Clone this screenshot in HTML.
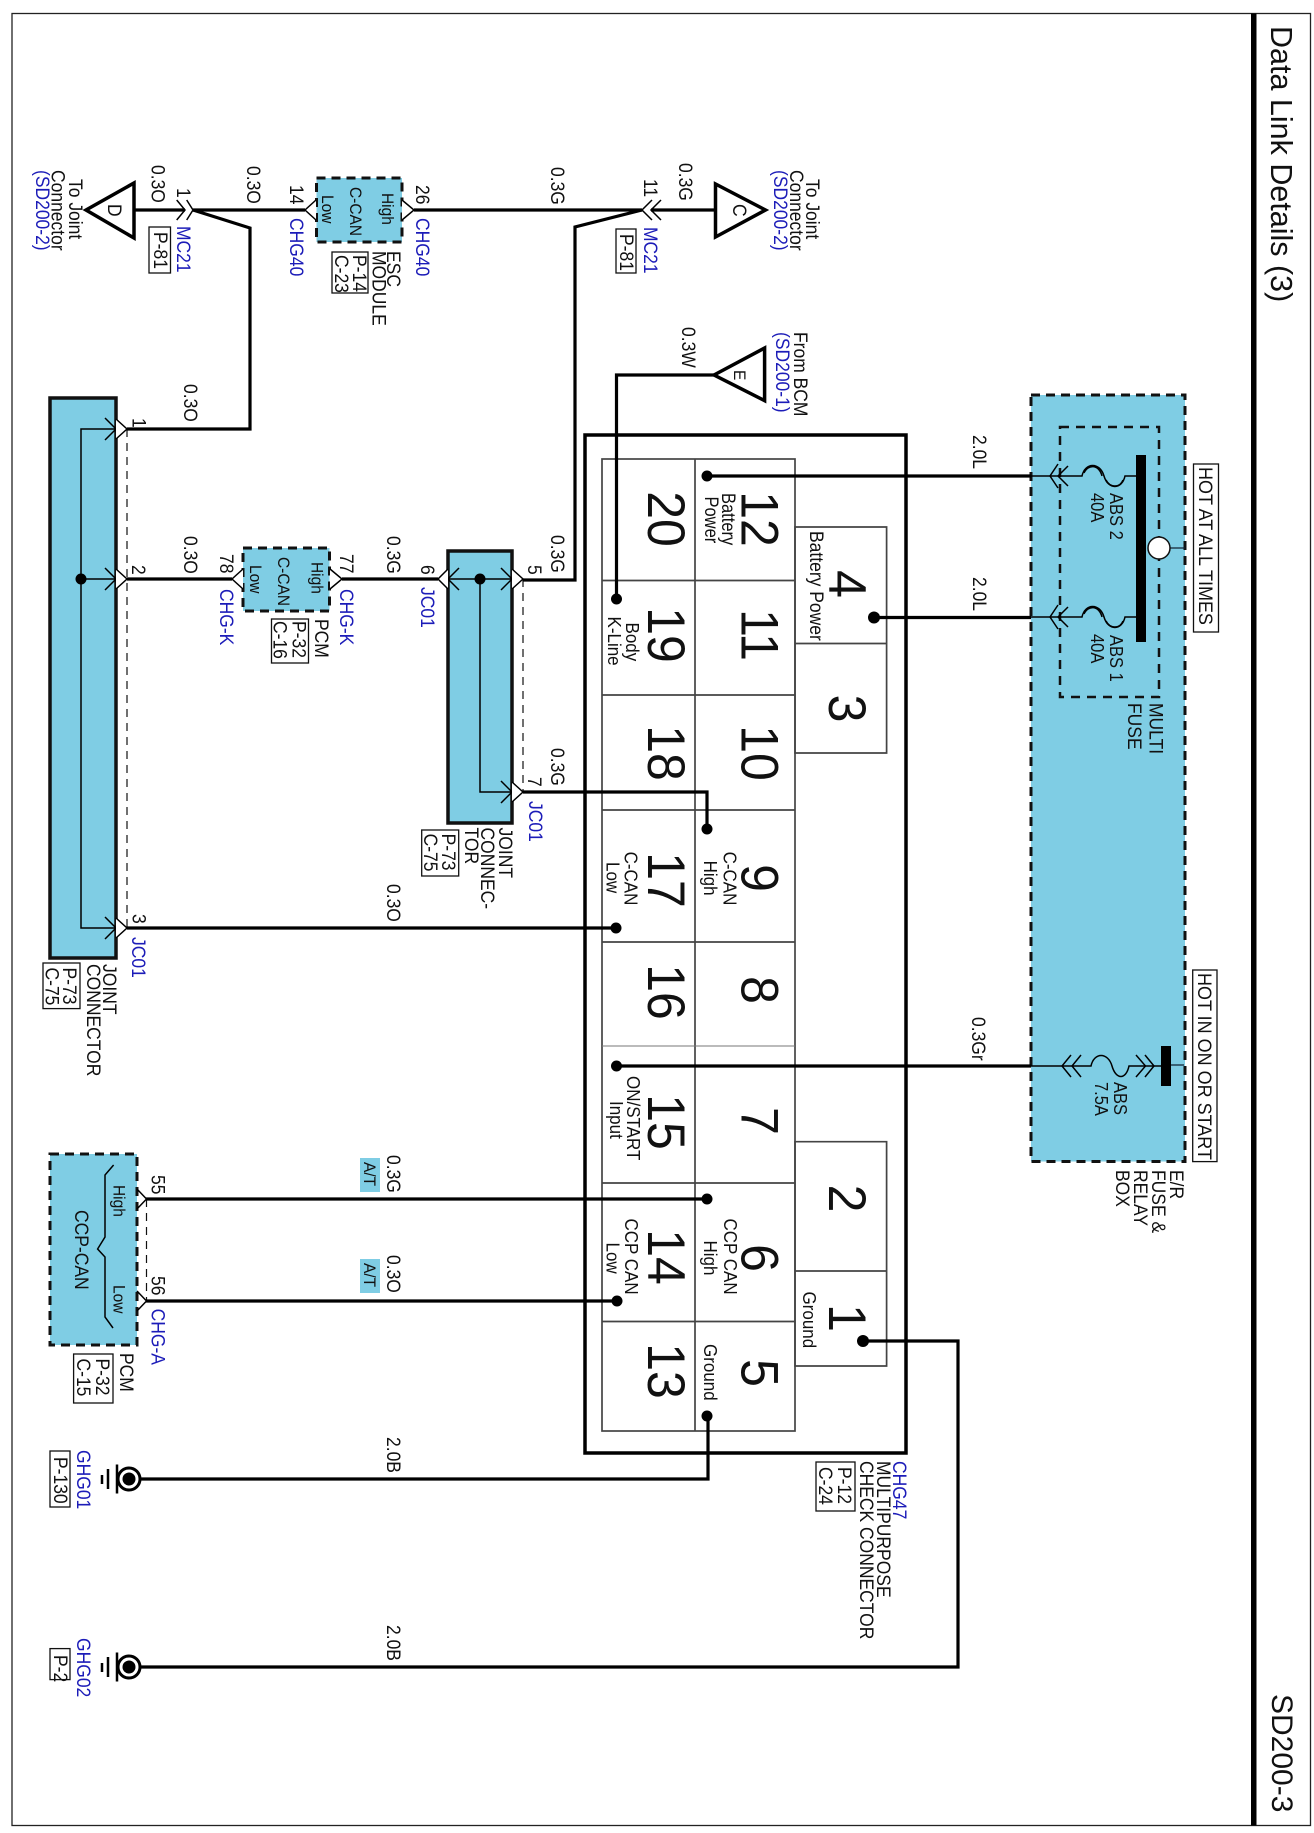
<!DOCTYPE html>
<html><head><meta charset="utf-8"><style>
html,body{margin:0;padding:0;background:#fff}
svg{display:block}
text{font-family:"Liberation Sans",sans-serif;font-size:17.5px;fill:#111}
.b{fill:#1c1cb8}
.m{font-size:15.5px}
.a{font-size:16.5px}
.c{font-size:17px}
.n{font-size:50px;text-anchor:middle}
.t{font-size:30.5px}
.w{fill:none;stroke:#000;stroke-width:3.2}
.f{fill:none;stroke:#000;stroke-width:1.5}
.p{fill:#fff;stroke:#000;stroke-width:1.5}
.g{fill:#fff;stroke:#444;stroke-width:1.7}
.d{fill:none;stroke:#111;stroke-width:1.2;stroke-dasharray:8 6}
.mod{fill:#7fcde4;stroke:#111;stroke-width:3;stroke-dasharray:9 6}
.jc{fill:#7fcde4;stroke:#111;stroke-width:3.5}
.box{fill:#fff;stroke:#111;stroke-width:1.3}
</style></head><body>
<svg width="1314" height="1833" viewBox="0 0 1314 1833" xmlns="http://www.w3.org/2000/svg">
<rect width="1314" height="1833" fill="#fff"/>
<rect x="12" y="13.5" width="1298.5" height="1812" fill="none" stroke="#222" stroke-width="1.3"/>
<rect x="1251" y="13.5" width="5.5" height="1812" fill="#000"/>
<text class="t" transform="matrix(0 1 -1 0 1271 26)">Data Link Details (3)</text>
<text style="font-size:30px" transform="matrix(0 1 -1 0 1272 1694)">SD200-3</text>

<!-- big joint connector -->
<rect class="jc" x="50" y="398" width="66" height="560"/>
<path class="f" d="M116,429H81V928H116M81,579H116"/>
<path class="f" d="M105,418L116,429L105,440M105,568L116,579L105,590M105,917L116,928L105,939"/>
<path class="d" d="M127,429V928"/>
<path class="p" d="M116,419L127,429L116,439M116,569L127,579L116,589M116,918L127,928L116,938"/>
<circle cx="81" cy="579" r="5.5"/>

<!-- second joint connector -->
<rect class="jc" x="448" y="551" width="64" height="272"/>
<path class="f" d="M448,579H512M480,579V792H512"/>
<path class="f" d="M459,568L448,579L459,590M501,568L512,579L501,590M501,781L512,792L501,803"/>
<path class="d" d="M523,579V792"/>
<path class="p" d="M512,569L523,579L512,589M512,782L523,792L512,802M448,569L438,579L448,589"/>
<circle cx="480" cy="579" r="5.5"/>

<!-- modules -->
<rect class="mod" x="316.5" y="178" width="85.5" height="64"/>
<rect class="mod" x="243" y="548" width="86.5" height="63"/>
<rect class="mod" x="50" y="1154" width="87" height="191"/>
<path class="p" d="M316,200L305,210L316,220M402,200L414,210L402,220"/>
<path class="p" d="M243,569L232,579L243,589M330,569L342,579L330,589"/>
<path class="f" d="M137,1189L146.5,1199L137,1209M137,1291L146.5,1301L137,1311"/>
<path class="d" d="M146.5,1199V1301"/>
<path class="f" d="M113.6,1165L105,1175V1237L97.6,1249L105,1257V1317L113,1328"/>

<!-- multipurpose connector -->
<rect x="585" y="435" width="321" height="1018" fill="none" stroke="#000" stroke-width="3.5"/>
<path class="g" d="M795,527H886.6V753H795ZM795,643.5H886.6M795,1141.7H886.6V1366H795ZM795,1271H886.6"/>
<rect x="602" y="459" width="193" height="972" fill="none" stroke="#444" stroke-width="1.7"/>
<path fill="none" stroke="#444" stroke-width="1.7" d="M695,459V1431M602,580.5H795M602,695H795M602,810H795M602,942H795M602,1183H795M602,1321.5H795"/>
<path fill="none" stroke="#777" stroke-width="1" d="M602,1046H795"/>

<!-- E/R fuse box -->
<rect class="mod" x="1031" y="395" width="154" height="766.5"/>
<rect x="1060" y="427" width="99" height="270" fill="none" stroke="#111" stroke-width="2.5" stroke-dasharray="9 7"/>
<rect x="1136" y="455" width="10" height="187" fill="#000"/>
<rect x="1161" y="1046" width="10" height="40" fill="#000"/>
<path fill="none" stroke="#123" stroke-width="1.3" d="M1170,548H1185M1171,1065H1184"/>
<circle cx="1159" cy="548" r="11" fill="#fff" stroke="#111" stroke-width="1.5"/>
<path class="f" d="M1030,476H1082C1085,462 1100,462 1104,476C1108,490 1122,490 1125,476H1136"/>
<path class="f" d="M1084,473C1088,464 1099,464 1102,476M1106,480C1110,488 1120,488 1123,480" stroke-width="1"/>
<path class="f" d="M1058,464L1050,476L1058,488M1068,466L1058,476L1068,486"/>
<path class="f" d="M1030,617H1082C1085,603 1100,603 1104,617C1108,631 1122,631 1125,617H1136"/>
<path class="f" d="M1084,614C1088,605 1099,605 1102,617M1106,621C1110,629 1120,629 1123,621" stroke-width="1"/>
<path class="f" d="M1058,605L1050,617L1058,629M1068,607L1058,617L1068,627"/>
<path class="f" d="M1030,1066H1091C1094,1052 1108,1052 1112,1066C1116,1080 1126,1080 1129,1066H1161"/>
<path class="f" d="M1071,1055L1062,1066L1071,1077M1081,1055L1072,1066L1081,1077M1136,1055L1145.5,1066L1136,1077M1145,1055L1154,1066L1145,1077"/>

<!-- triangles -->
<path fill="#fff" stroke="#000" stroke-width="3.5" d="M86,210L134,183V238Z"/>
<path fill="#fff" stroke="#000" stroke-width="3.5" d="M715.5,184V237L765.5,210Z"/>
<path fill="#fff" stroke="#000" stroke-width="3.5" d="M714,375L764.6,348V400.6Z"/>

<!-- wires -->
<path class="w" d="M134,210H185M193,210H305M414,210H642M651,210H715"/>
<path class="w" d="M193,210L250,228V429H127"/>
<path class="w" d="M642,210L575,227V580H523"/>
<path class="w" d="M127,579H232M342,579H438"/>
<path class="w" d="M523,792H707V829"/>
<path class="w" d="M127,928H616"/>
<path class="w" d="M714,375H616.5V599"/>
<path class="w" d="M707,476H1031M874,617.5H1031M616.5,1066H1031"/>
<path class="w" d="M146,1199H708M146,1301H617"/>
<path class="w" d="M141,1479H708V1416"/>
<path class="w" d="M141,1667H958V1341H863"/>
<path class="f" d="M176.7,200L185,210L176.7,220M186.7,200L193,210L186.7,220"/>
<path class="f" d="M652,200L642,210L652,220M661,200L651,210L661,220"/>
<g>
<circle cx="707" cy="476" r="5.5"/><circle cx="874" cy="617.5" r="6"/><circle cx="616.5" cy="599" r="5.5"/>
<circle cx="707" cy="829" r="5.5"/><circle cx="616" cy="928" r="5.5"/><circle cx="616.5" cy="1066" r="5.5"/>
<circle cx="707" cy="1199" r="5.5"/><circle cx="617" cy="1301" r="5.5"/><circle cx="863" cy="1341" r="6"/><circle cx="707" cy="1416" r="5.5"/>
</g>

<!-- grounds -->
<g fill="#fff" stroke="#000" stroke-width="3"><circle cx="129" cy="1479" r="11"/><circle cx="129" cy="1667" r="11"/></g>
<circle cx="129" cy="1479" r="6.5"/><circle cx="129" cy="1667" r="6.5"/>
<path fill="none" stroke="#000" stroke-width="2.5" d="M117,1464.5V1493.5M117,1652.5V1681.5M108,1469V1489M108,1657V1677"/>
<path fill="none" stroke="#000" stroke-width="2.5" d="M102,1475V1484M102,1663V1672"/>

<!-- label boxes -->
<rect class="box" x="149" y="227" width="21.5" height="46"/>
<rect class="box" x="616" y="229" width="20" height="44"/>
<rect class="box" x="332" y="252" width="36" height="41"/>
<rect class="box" x="271.5" y="619" width="37" height="44"/>
<rect class="box" x="421.7" y="830" width="37" height="46"/>
<rect class="box" x="43" y="963" width="37" height="45.6"/>
<rect class="box" x="73.6" y="1354" width="39.4" height="49"/>
<rect class="box" x="50" y="1451" width="20" height="56"/>
<rect class="box" x="50" y="1648.6" width="20" height="31"/>
<rect class="box" x="816" y="1462" width="39" height="49"/>
<rect class="box" x="1193.5" y="464" width="25" height="168"/>
<rect class="box" x="1192.7" y="970" width="24.3" height="191.6"/>
<rect x="360" y="1158" width="20" height="34" fill="#7fcde4"/>
<rect x="360" y="1259" width="20" height="34" fill="#7fcde4"/>

<!-- wire labels -->
<text transform="matrix(0 1 -1.1 0 151.5 165)">0.3O</text>
<text transform="matrix(0 1 -1.1 0 247 166)">0.3O</text>
<text transform="matrix(0 1 -1.1 0 551 167)">0.3G</text>
<text transform="matrix(0 1 -1.1 0 679 163)">0.3G</text>
<text transform="matrix(0 1 -1.1 0 184 384)">0.3O</text>
<text transform="matrix(0 1 -1.1 0 184 536)">0.3O</text>
<text transform="matrix(0 1 -1.1 0 387 536)">0.3G</text>
<text transform="matrix(0 1 -1.1 0 551 535)">0.3G</text>
<text transform="matrix(0 1 -1.1 0 551 748)">0.3G</text>
<text transform="matrix(0 1 -1.1 0 387 884)">0.3O</text>
<text transform="matrix(0 1 -1.1 0 682 327)">0.3W</text>
<text transform="matrix(0 1 -1.1 0 973 435)">2.0L</text>
<text transform="matrix(0 1 -1.1 0 973 577)">2.0L</text>
<text transform="matrix(0 1 -1.1 0 972 1017)">0.3Gr</text>
<text transform="matrix(0 1 -1.1 0 387 1155)">0.3G</text>
<text transform="matrix(0 1 -1.1 0 387 1255)">0.3O</text>
<text transform="matrix(0 1 -1.1 0 387 1437)">2.0B</text>
<text transform="matrix(0 1 -1.1 0 387 1625)">2.0B</text>
<text class="m" transform="matrix(0 1 -1.1 0 364 1162)">A/T</text>
<text class="m" transform="matrix(0 1 -1.1 0 364 1263)">A/T</text>

<!-- pin numbers -->
<text transform="matrix(0 1 -1.1 0 177 188)">1</text>
<text transform="matrix(0 1 -1.1 0 290 185)">14</text>
<text transform="matrix(0 1 -1.1 0 416 185)">26</text>
<text transform="matrix(0 1 -1.1 0 644 179)">11</text>
<text transform="matrix(0 1 -1.1 0 132.6 418)">1</text>
<text transform="matrix(0 1 -1.1 0 132 565)">2</text>
<text transform="matrix(0 1 -1.1 0 132.6 914)">3</text>
<text transform="matrix(0 1 -1.1 0 220 554)">78</text>
<text transform="matrix(0 1 -1.1 0 340 554)">77</text>
<text transform="matrix(0 1 -1.1 0 421 565)">6</text>
<text transform="matrix(0 1 -1.1 0 528 565)">5</text>
<text transform="matrix(0 1 -1.1 0 528 777)">7</text>
<text transform="matrix(0 1 -1.1 0 151.5 1175)">55</text>
<text transform="matrix(0 1 -1.1 0 151.5 1276)">56</text>

<!-- blue refs -->
<text class="b" transform="matrix(0 1 -1.1 0 177 226)">MC21</text>
<text class="b" transform="matrix(0 1 -1.1 0 644 227)">MC21</text>
<text class="b" transform="matrix(0 1 -1.1 0 290 218)">CHG40</text>
<text class="b" transform="matrix(0 1 -1.1 0 416 218)">CHG40</text>
<text class="b" transform="matrix(0 1 -1.1 0 220 589)">CHG-K</text>
<text class="b" transform="matrix(0 1 -1.1 0 340 589)">CHG-K</text>
<text class="b" transform="matrix(0 1 -1.1 0 421 587)">JC01</text>
<text class="b" transform="matrix(0 1 -1.1 0 529 801)">JC01</text>
<text class="b" transform="matrix(0 1 -1.1 0 132 937)">JC01</text>
<text class="b" transform="matrix(0 1 -1.1 0 151.5 1308.6)">CHG-A</text>
<text class="b" transform="matrix(0 1 -1.1 0 77 1450)">GHG01</text>
<text class="b" transform="matrix(0 1 -1.1 0 77 1638)">GHG02</text>
<text class="b" transform="matrix(0 1 -1.1 0 893 1461)">CHG47</text>
<text class="b" transform="matrix(0 1 -1.1 0 36 170)">(SD200-2)</text>
<text class="b" transform="matrix(0 1 -1.1 0 774 170)">(SD200-2)</text>
<text class="b" transform="matrix(0 1 -1.1 0 776 332)">(SD200-1)</text>

<!-- names -->
<text transform="matrix(0 1 -1.1 0 69 179)">To Joint</text>
<text transform="matrix(0 1 -1.1 0 51.5 170)">Connector</text>
<text transform="matrix(0 1 -1.1 0 806 179)">To Joint</text>
<text transform="matrix(0 1 -1.1 0 790 170)">Connector</text>
<text transform="matrix(0 1 -1.1 0 794 332)">From BCM</text>
<text transform="matrix(0 1 -1.1 0 108 204)">D</text>
<text transform="matrix(0 1 -1.1 0 733 204)">C</text>
<text class="m" transform="matrix(0 1 -1.1 0 734 370)">E</text>
<text transform="matrix(0 1 -1.1 0 154 232)">P-81</text>
<text transform="matrix(0 1 -1.1 0 620 234)">P-81</text>
<text class="m" transform="matrix(0 1 -1.1 0 382 193)">High</text>
<text class="m" transform="matrix(0 1 -1.1 0 350 187)">C-CAN</text>
<text class="m" transform="matrix(0 1 -1.1 0 322 195)">Low</text>
<text transform="matrix(0 1 -1.1 0 387 251)">ESC</text>
<text transform="matrix(0 1 -1.1 0 372.5 251)">MODULE</text>
<text transform="matrix(0 1 -1.1 0 353 255)">P-14</text>
<text transform="matrix(0 1 -1.1 0 335 255)">C-23</text>
<text class="m" transform="matrix(0 1 -1.1 0 311.5 562)">High</text>
<text class="m" transform="matrix(0 1 -1.1 0 278 557)">C-CAN</text>
<text class="m" transform="matrix(0 1 -1.1 0 250 565)">Low</text>
<text transform="matrix(0 1 -1.1 0 315 619)">PCM</text>
<text transform="matrix(0 1 -1.1 0 292.5 621)">P-32</text>
<text transform="matrix(0 1 -1.1 0 273.5 621)">C-16</text>
<text transform="matrix(0 1 -1.1 0 499 827.5)">JOINT</text>
<text transform="matrix(0 1 -1.1 0 481 827.5)">CONNEC-</text>
<text transform="matrix(0 1 -1.1 0 465 827.5)">TOR</text>
<text transform="matrix(0 1 -1.1 0 442 833.6)">P-73</text>
<text transform="matrix(0 1 -1.1 0 424 833.6)">C-75</text>
<text transform="matrix(0 1 -1.1 0 103 964)">JOINT</text>
<text transform="matrix(0 1 -1.1 0 87 964)">CONNECTOR</text>
<text transform="matrix(0 1 -1.1 0 63 967.5)">P-73</text>
<text transform="matrix(0 1 -1.1 0 45.5 967.5)">C-75</text>
<text class="m" transform="matrix(0 1 -1.1 0 113.6 1185)">High</text>
<text class="m" transform="matrix(0 1 -1.1 0 113.6 1285)">Low</text>
<text transform="matrix(0 1 -1.1 0 75 1210)">CCP-CAN</text>
<text transform="matrix(0 1 -1.1 0 120 1353)">PCM</text>
<text transform="matrix(0 1 -1.1 0 96 1358.5)">P-32</text>
<text transform="matrix(0 1 -1.1 0 77 1358.5)">C-15</text>
<text transform="matrix(0 1 -1.1 0 54 1457)">P-130</text>
<text transform="matrix(0 1 -1.1 0 54 1655)">P-2</text>
<text transform="matrix(0 1 -1.1 0 877 1461)">MULTIPURPOSE</text>
<text transform="matrix(0 1 -1.1 0 860 1461)">CHECK CONNECTOR</text>
<text transform="matrix(0 1 -1.1 0 838 1467)">P-12</text>
<text transform="matrix(0 1 -1.1 0 819 1467)">C-24</text>

<!-- fuse box labels -->
<text class="a" transform="matrix(0 1 -1.1 0 1110 493)">ABS 2</text>
<text class="a" transform="matrix(0 1 -1.1 0 1091 493)">40A</text>
<text class="a" transform="matrix(0 1 -1.1 0 1110 635)">ABS 1</text>
<text class="a" transform="matrix(0 1 -1.1 0 1091 634)">40A</text>
<text class="a" transform="matrix(0 1 -1.1 0 1114 1082)">ABS</text>
<text class="a" transform="matrix(0 1 -1.1 0 1095 1082)">7.5A</text>
<text transform="matrix(0 1 -1.1 0 1149.5 703)">MULTI</text>
<text transform="matrix(0 1 -1.1 0 1128 703)">FUSE</text>
<text style="font-size:18px" transform="matrix(0 1 -1.08 0 1199 467)">HOT AT ALL TIMES</text>
<text style="font-size:18px" transform="matrix(0 1 -1.08 0 1198 973)">HOT IN ON OR START</text>
<text transform="matrix(0 1 -1.1 0 1170 1170)">E/R</text>
<text transform="matrix(0 1 -1.1 0 1152 1170)">FUSE &amp;</text>
<text transform="matrix(0 1 -1.1 0 1134 1170)">RELAY</text>
<text transform="matrix(0 1 -1.1 0 1116 1170)">BOX</text>

<!-- cell labels -->
<text class="a" transform="matrix(0 1 -1.15 0 722 493)">Battery</text>
<text class="a" transform="matrix(0 1 -1.15 0 705 496.5)">Power</text>
<text transform="matrix(0 1 -1.1 0 810 531)">Battery Power</text>
<text class="c" transform="matrix(0 1 -1.1 0 626 622.5)">Body</text>
<text class="c" transform="matrix(0 1 -1.1 0 608 616.5)">K-Line</text>
<text class="c" transform="matrix(0 1 -1.1 0 723.5 851.6)">C-CAN</text>
<text class="c" transform="matrix(0 1 -1.1 0 704 860.6)">High</text>
<text class="c" transform="matrix(0 1 -1.1 0 624.5 851.6)">C-CAN</text>
<text class="c" transform="matrix(0 1 -1.1 0 606.5 862)">Low</text>
<text class="c" transform="matrix(0 1 -1.1 0 627 1076)">ON/START</text>
<text class="c" transform="matrix(0 1 -1.1 0 610 1101)">Input</text>
<text class="c" transform="matrix(0 1 -1.1 0 724 1218.5)">CCP CAN</text>
<text class="c" transform="matrix(0 1 -1.1 0 704 1240.5)">High</text>
<text class="c" transform="matrix(0 1 -1.1 0 625 1218.5)">CCP CAN</text>
<text class="c" transform="matrix(0 1 -1.1 0 606.5 1242.5)">Low</text>
<text class="c" transform="matrix(0 1 -1.1 0 803 1291.5)">Ground</text>
<text class="c" transform="matrix(0 1 -1.1 0 704 1344)">Ground</text>

<!-- big numbers -->
<text class="n" transform="matrix(0 1 -1.05 0 648 519)">20</text>
<text class="n" transform="matrix(0 1 -1.05 0 648 635)">19</text>
<text class="n" transform="matrix(0 1 -1.05 0 648 753)">18</text>
<text class="n" transform="matrix(0 1 -1.05 0 648 880)">17</text>
<text class="n" transform="matrix(0 1 -1.05 0 648 992)">16</text>
<text class="n" transform="matrix(0 1 -1.05 0 648 1122)">15</text>
<text class="n" transform="matrix(0 1 -1.05 0 648 1257)">14</text>
<text class="n" transform="matrix(0 1 -1.05 0 648 1371)">13</text>
<text class="n" transform="matrix(0 1 -1.05 0 741.5 519)">12</text>
<text class="n" transform="matrix(0 1 -1.05 0 741.5 635)">11</text>
<text class="n" transform="matrix(0 1 -1.05 0 741.5 753)">10</text>
<text class="n" transform="matrix(0 1 -1.05 0 741.5 878)">9</text>
<text class="n" transform="matrix(0 1 -1.05 0 741.5 990)">8</text>
<text class="n" transform="matrix(0 1 -1.05 0 741.5 1121)">7</text>
<text class="n" transform="matrix(0 1 -1.05 0 741.5 1258)">6</text>
<text class="n" transform="matrix(0 1 -1.05 0 741.5 1373)">5</text>
<text class="n" transform="matrix(0 1 -1.05 0 829 584)">4</text>
<text class="n" transform="matrix(0 1 -1.05 0 829 708.5)">3</text>
<text class="n" transform="matrix(0 1 -1.05 0 829 1198.5)">2</text>
<text class="n" transform="matrix(0 1 -1.05 0 829 1318)">1</text>
</svg>
</body></html>
